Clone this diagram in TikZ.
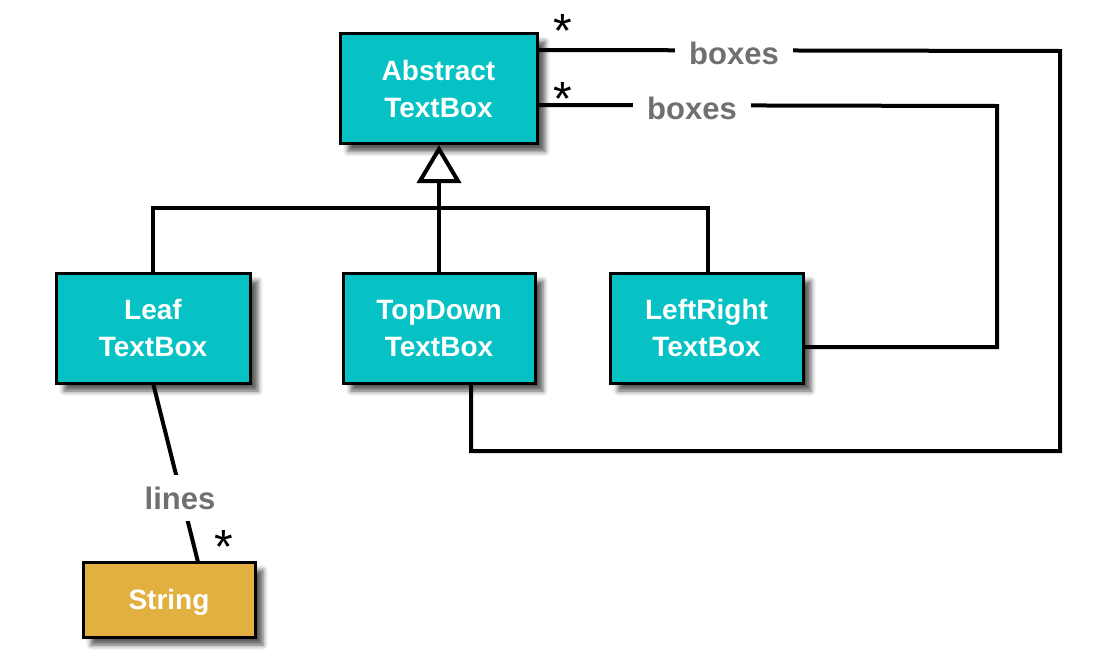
\documentclass[tikz,border=0pt]{standalone}
\usepackage{fontspec}
\setmainfont{Liberation Sans}
\usetikzlibrary{arrows.meta,calc,shadows.blur}
\definecolor{boxteal}{HTML}{06C2C4}
\definecolor{boxgold}{HTML}{E2B040}
\definecolor{labgray}{HTML}{707070}
\begin{document}
\begin{tikzpicture}[x=1pt,y=-1pt,
  classbox/.style={draw=black, line width=3pt, fill=boxteal, text=white,
    font=\fontsize{28}{37}\selectfont\bfseries, align=center,
    minimum height=110pt, inner sep=0pt,
    blur shadow={shadow xshift=8pt, shadow yshift=-8pt, shadow blur radius=5pt, shadow opacity=65}},
  conn/.style={line width=4pt, draw=black},
  lab/.style={fill=white, text=labgray, font=\fontsize{31}{31}\selectfont\bfseries, inner xsep=14pt, inner ysep=2pt},
  mult/.style={font=\fontsize{48}{48}\selectfont, anchor=base, inner sep=0pt}]
\useasboundingbox (0,0) rectangle (1108,664);
\node[classbox, minimum width=197pt] (abs) at (438.5,88.5) {Abstract\\TextBox};
\node[classbox, minimum width=194pt] (leaf) at (153,328) {Leaf\\TextBox};
\node[classbox, minimum width=192pt] (td) at (439,328) {TopDown\\TextBox};
\node[classbox, minimum width=193pt] (lr) at (706.5,328) {LeftRight\\TextBox};
\node[classbox, fill=boxgold, minimum width=172pt, minimum height=75pt, text depth=0pt] (str) at (169,599.5) {String};
% inheritance
\coordinate (jl) at (153,208);
\coordinate (jr) at (708,208);
\draw[conn] (leaf.north -| jl) -- (jl) -- (jr) -- (lr.north -| jr);
\draw[conn, -{Triangle[open, width=44pt, length=38pt, line width=4pt]}] (td.north) -- (abs.south -| td.north);
% boxes associations
\coordinate (a1) at ($(abs.north east)+(0,18)$);
\coordinate (a2) at ($(abs.north east)+(0,73)$);
\coordinate (c1) at (1060,51);
\coordinate (c2) at (1060,451);
\coordinate (c3) at (471,451);
\coordinate (d1) at (997,106);
\coordinate (d2) at (997,347);
\draw[conn] (a1) -- (c1) -- (c2) -- (c3) -- (td.south -| c3);
\draw[conn] (a2) -- (d1) -- (d2) -- (lr.east |- d2);
\node[lab] (lb1) at (734,53) {boxes};
\node[lab] (lb2) at (692,108) {boxes};
\node[mult] (m1) at (563,47) {*};
\node[mult] (m2) at (563,115) {*};
% lines association
\coordinate (l1) at (153,383);
\coordinate (l2) at (198,562);
\draw[conn] (l1) -- (l2);
\node[lab, inner xsep=4pt, inner ysep=12pt] (ll) at (180,498) {lines};
\node[mult] (m3) at (224,563) {*};
\end{tikzpicture}
\end{document}
